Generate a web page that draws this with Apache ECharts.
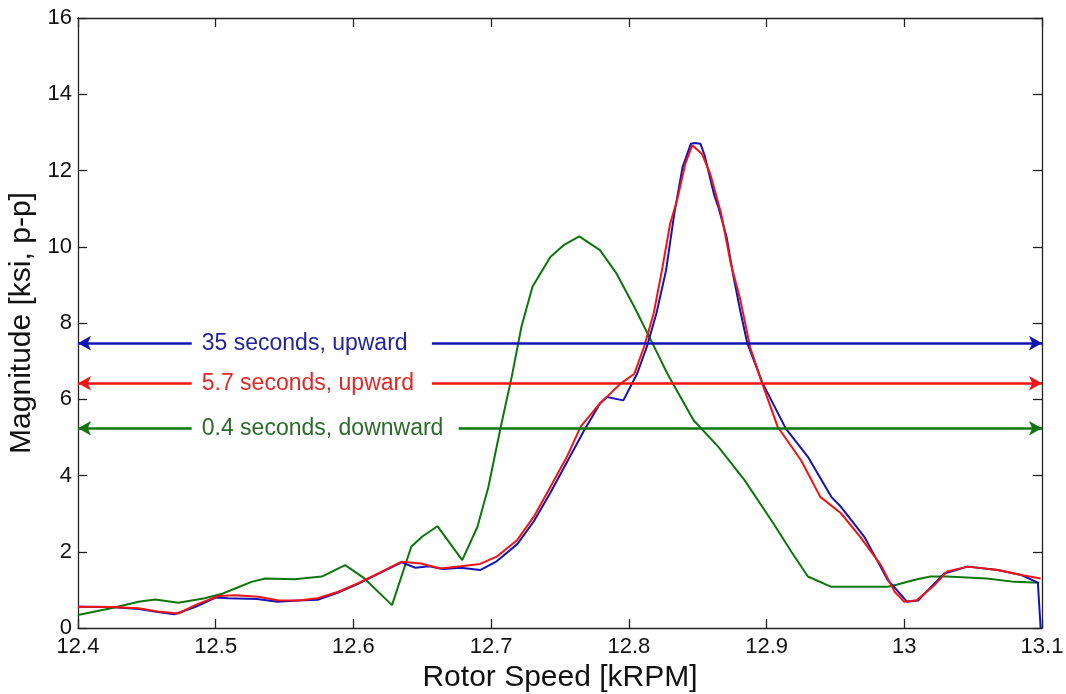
<!DOCTYPE html>
<html>
<head>
<meta charset="utf-8">
<script src="https://cdn.jsdelivr.net/npm/echarts@6/dist/echarts.min.js"></script>
<style>
html,body{margin:0;padding:0;background:#fff;}
#chart{width:1066px;height:694px;}
</style>
</head>
<body>
<div id="chart"></div>
<script>
// ---- Data ----
const xTicks = [12.4, 12.5, 12.6, 12.7, 12.8, 12.9, 13.0, 13.1];
const yTicks = [0, 2, 4, 6, 8, 10, 12, 14, 16];

// 0.4 seconds, downward (green)
const greenX = [12.400, 12.424, 12.444, 12.456, 12.473, 12.492, 12.504, 12.515, 12.526, 12.536, 12.557, 12.577, 12.594, 12.608, 12.628, 12.642, 12.650, 12.661, 12.679, 12.690, 12.698, 12.707, 12.715, 12.722, 12.730, 12.743, 12.753, 12.764, 12.779, 12.791, 12.804, 12.816, 12.828, 12.847, 12.865, 12.884, 12.905, 12.918, 12.930, 12.947, 12.988, 12.995, 13.007, 13.019, 13.031, 13.060, 13.080, 13.098];
const greenY = [0.34, 0.52, 0.69, 0.75, 0.66, 0.78, 0.89, 1.05, 1.21, 1.30, 1.28, 1.35, 1.65, 1.30, 0.60, 2.13, 2.40, 2.67, 1.78, 2.65, 3.70, 5.28, 6.60, 7.90, 8.95, 9.73, 10.05, 10.27, 9.91, 9.30, 8.42, 7.55, 6.67, 5.45, 4.75, 3.88, 2.74, 2.00, 1.35, 1.08, 1.08, 1.14, 1.26, 1.35, 1.35, 1.30, 1.21, 1.19];

// 35 seconds, upward (blue)
const blueX = [12.400, 12.424, 12.444, 12.458, 12.470, 12.485, 12.500, 12.509, 12.530, 12.545, 12.560, 12.574, 12.589, 12.603, 12.618, 12.635, 12.645, 12.655, 12.665, 12.678, 12.692, 12.704, 12.719, 12.731, 12.743, 12.755, 12.767, 12.779, 12.784, 12.796, 12.801, 12.806, 12.813, 12.820, 12.827, 12.833, 12.839, 12.845, 12.848, 12.852, 12.855, 12.862, 12.865, 12.871, 12.876, 12.881, 12.886, 12.897, 12.914, 12.930, 12.947, 12.954, 12.971, 12.988, 13.002, 13.010, 13.029, 13.046, 13.068, 13.085, 13.097, 13.099];
const blueY = [0.56, 0.55, 0.50, 0.42, 0.36, 0.55, 0.80, 0.78, 0.76, 0.69, 0.72, 0.74, 0.93, 1.15, 1.42, 1.72, 1.58, 1.62, 1.55, 1.58, 1.52, 1.75, 2.20, 2.80, 3.55, 4.35, 5.15, 5.89, 6.06, 5.97, 6.32, 6.67, 7.37, 8.25, 9.38, 10.87, 12.09, 12.70, 12.72, 12.70, 12.40, 11.35, 11.04, 10.25, 9.21, 8.30, 7.47, 6.43, 5.23, 4.49, 3.44, 3.18, 2.39, 1.26, 0.69, 0.72, 1.43, 1.61, 1.52, 1.39, 1.19, 0.0];

// 5.7 seconds, upward (red)
const redX = [12.400, 12.424, 12.444, 12.458, 12.473, 12.485, 12.502, 12.514, 12.531, 12.545, 12.560, 12.574, 12.589, 12.603, 12.618, 12.635, 12.649, 12.663, 12.678, 12.692, 12.704, 12.719, 12.731, 12.743, 12.755, 12.765, 12.779, 12.794, 12.804, 12.811, 12.818, 12.824, 12.830, 12.835, 12.841, 12.846, 12.853, 12.859, 12.867, 12.874, 12.881, 12.888, 12.896, 12.908, 12.925, 12.939, 12.954, 12.968, 12.983, 12.993, 13.000, 13.009, 13.022, 13.031, 13.046, 13.068, 13.085, 13.099];
const redY = [0.56, 0.55, 0.52, 0.43, 0.38, 0.60, 0.84, 0.86, 0.82, 0.73, 0.72, 0.78, 0.95, 1.17, 1.43, 1.74, 1.69, 1.56, 1.62, 1.68, 1.87, 2.31, 2.92, 3.70, 4.49, 5.28, 5.89, 6.41, 6.67, 7.37, 8.25, 9.38, 10.61, 11.22, 12.18, 12.66, 12.44, 11.92, 10.87, 9.56, 8.60, 7.37, 6.50, 5.28, 4.40, 3.44, 3.01, 2.39, 1.65, 0.95, 0.69, 0.73, 1.13, 1.48, 1.61, 1.52, 1.39, 1.30];

// annotation arrows: labels, level, gap around the label
const noteLabels = ['35 seconds, upward', '5.7 seconds, upward', '0.4 seconds, downward'];
const noteLevels = [7.47, 6.42, 5.24];
const noteGapStart = [12.4826, 12.4826, 12.4826];
const noteGapEnd = [12.657, 12.657, 12.6764];

const BLUE = '#1414b4', RED = '#f01414', GREEN = '#0c760c';
const FONT = 'Liberation Sans, Arial, sans-serif';

function pairs(xs, ys) { return xs.map((x, i) => [x, ys[i]]); }

function arrowMark(idx, color, textColor) {
  const y = noteLevels[idx];
  return {
    silent: true,
    animation: false,
    lineStyle: { color: color, width: 2.5, type: 'solid' },
    symbolSize: [11, 13],
    label: { show: false },
    emphasis: { disabled: true },
    data: [
      [
        { coord: [12.4, y], symbol: 'arrow' },
        { coord: [noteGapStart[idx], y], symbol: 'none',
          label: { show: true, position: 'end', distance: 10, formatter: noteLabels[idx],
                   color: textColor, fontSize: 23, fontFamily: FONT } }
      ],
      [
        { coord: [noteGapEnd[idx], y], symbol: 'none' },
        { coord: [13.1, y], symbol: 'arrow' }
      ]
    ]
  };
}

const axisCommon = {
  axisLine: { show: true, onZero: false, lineStyle: { color: '#222', width: 1.3 } },
  axisTick: { show: true, inside: true, length: 9, lineStyle: { color: '#222', width: 1.3 } },
  splitLine: { show: false }
};

const chart = echarts.init(document.getElementById('chart'), null, { renderer: 'canvas' });
chart.setOption({
  animation: false,
  backgroundColor: '#ffffff',
  grid: { left: 78, right: 24, top: 18, bottom: 66, containLabel: false, outerBoundsMode: 'none' },
  xAxis: [
    Object.assign({
      type: 'value', min: xTicks[0], max: xTicks[xTicks.length - 1], interval: 0.1,
      position: 'bottom',
      name: 'Rotor Speed [kRPM]', nameLocation: 'middle', nameGap: 26,
      nameTextStyle: { fontSize: 30, color: '#111', fontFamily: FONT },
      axisLabel: { fontSize: 22, color: '#111', fontFamily: FONT, margin: 8,
                   formatter: v => String(Math.round(v * 10) / 10) }
    }, axisCommon),
    Object.assign({
      type: 'value', min: xTicks[0], max: xTicks[xTicks.length - 1], interval: 0.1,
      position: 'top', axisLabel: { show: false }
    }, axisCommon)
  ],
  yAxis: [
    Object.assign({
      type: 'value', min: yTicks[0], max: yTicks[yTicks.length - 1], interval: 2,
      position: 'left',
      name: 'Magnitude [ksi, p-p]', nameLocation: 'middle', nameGap: 40,
      nameTextStyle: { fontSize: 30, color: '#111', fontFamily: FONT },
      axisLabel: { fontSize: 22, color: '#111', fontFamily: FONT, margin: 6 }
    }, axisCommon),
    Object.assign({
      type: 'value', min: yTicks[0], max: yTicks[yTicks.length - 1], interval: 2,
      position: 'right', axisLabel: { show: false }
    }, axisCommon)
  ],
  series: [
    {
      name: '0.4 seconds, downward', type: 'line', xAxisIndex: 0, yAxisIndex: 0,
      data: pairs(greenX, greenY), showSymbol: false, symbol: 'none',
      lineStyle: { color: GREEN, width: 2 }, itemStyle: { color: GREEN },
      markLine: arrowMark(2, GREEN, '#2a6a2a'), z: 2
    },
    {
      name: '35 seconds, upward', type: 'line', xAxisIndex: 0, yAxisIndex: 0,
      data: pairs(blueX, blueY), showSymbol: false, symbol: 'none',
      lineStyle: { color: BLUE, width: 2 }, itemStyle: { color: BLUE },
      markLine: arrowMark(0, BLUE, '#24249a'), z: 3
    },
    {
      name: '5.7 seconds, upward', type: 'line', xAxisIndex: 0, yAxisIndex: 0,
      data: pairs(redX, redY), showSymbol: false, symbol: 'none',
      lineStyle: { color: RED, width: 2 }, itemStyle: { color: RED },
      markLine: arrowMark(1, RED, '#e02828'), z: 4
    }
  ]
});
</script>
</body>
</html>
